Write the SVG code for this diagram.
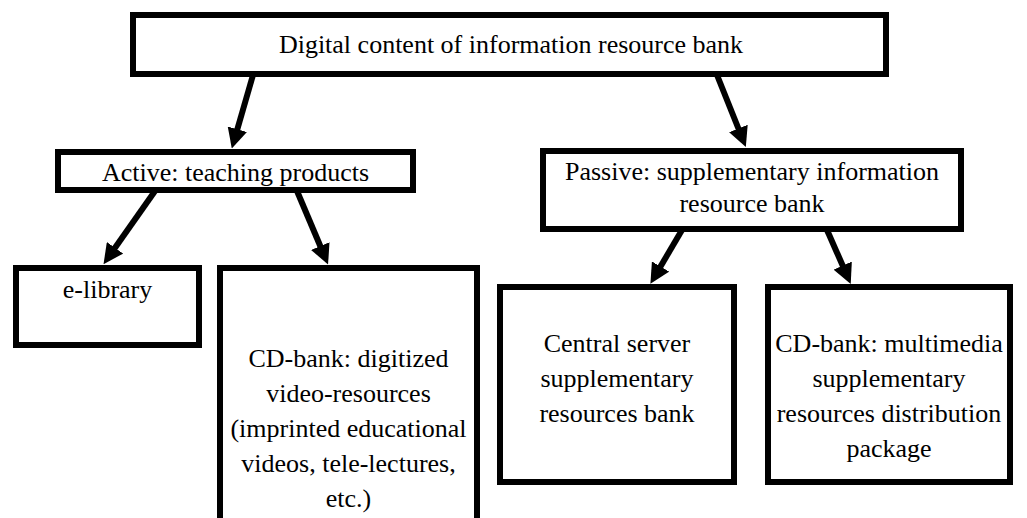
<svg xmlns="http://www.w3.org/2000/svg" width="1027" height="518" viewBox="0 0 1027 518">
<style>
.box{fill:#fff;stroke:#000;stroke-width:6}
.t{font-family:'Liberation Serif','Times New Roman',Tinos,'DejaVu Serif','Noto Serif',serif;font-size:26px;fill:#000;text-anchor:middle}
.c{stroke:#000;stroke-width:6;fill:none;marker-end:url(#ah)}
</style>
<defs>
<marker id="ah" viewBox="0 0 20 20" refX="7" refY="10" markerWidth="20" markerHeight="20" markerUnits="userSpaceOnUse" orient="auto">
<path d="M0,0 L20,10 L0,20 z" fill="#000"/>
</marker>
</defs>
<rect width="1027" height="518" fill="#fff"/>
<g id="connectors">
<line class="c" x1="253" y1="75" x2="235.4" y2="136"/>
<line class="c" x1="717" y1="75" x2="741" y2="135"/>
<line class="c" x1="155" y1="191" x2="111" y2="253.5"/>
<line class="c" x1="297" y1="191" x2="323" y2="252.5"/>
<line class="c" x1="682" y1="230" x2="657" y2="272.5"/>
<line class="c" x1="827" y1="230" x2="845.5" y2="272"/>
</g>
<g id="root">
<rect class="box" x="133" y="15" width="753" height="59"/>
<text class="t" x="511" y="53" font-family="Liberation Serif, serif">Digital content of information resource bank</text>
</g>
<g id="active">
<rect class="box" x="58" y="152" width="355" height="38"/>
<text class="t" x="235.5" y="181">Active: teaching products</text>
</g>
<g id="passive">
<rect class="box" x="543" y="151" width="418" height="78"/>
<text class="t" x="752" y="180">Passive: supplementary information</text>
<text class="t" x="752" y="212">resource bank</text>
</g>
<g id="elibrary">
<rect class="box" x="16" y="268" width="183" height="77"/>
<text class="t" x="107.5" y="298">e-library</text>
</g>
<g id="cdbank-video">
<rect class="box" x="220" y="268" width="257" height="280"/>
<text class="t" x="348.5" y="367">CD-bank: digitized</text>
<text class="t" x="348.5" y="402">video-resources</text>
<text class="t" x="348.5" y="437">(imprinted educational</text>
<text class="t" x="348.5" y="472">videos, tele-lectures,</text>
<text class="t" x="348.5" y="507">etc.)</text>
</g>
<g id="central-server">
<rect class="box" x="500" y="287" width="234" height="195"/>
<text class="t" x="617" y="352">Central server</text>
<text class="t" x="617" y="387">supplementary</text>
<text class="t" x="617" y="422">resources bank</text>
</g>
<g id="cdbank-multimedia">
<rect class="box" x="768" y="287" width="242" height="195"/>
<text class="t" x="889" y="352">CD-bank: multimedia</text>
<text class="t" x="889" y="387">supplementary</text>
<text class="t" x="889" y="422">resources distribution</text>
<text class="t" x="889" y="457">package</text>
</g>
</svg>
